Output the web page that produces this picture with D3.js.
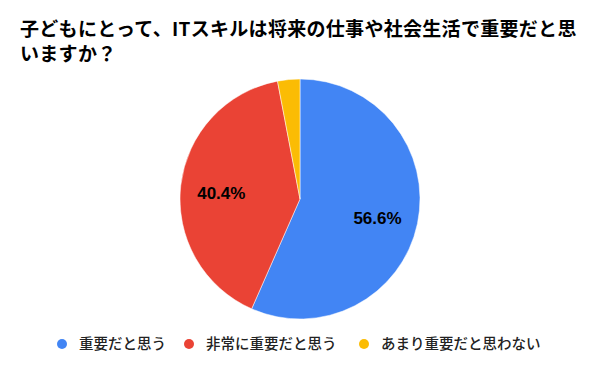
<!DOCTYPE html>
<html>
<head>
<meta charset="utf-8">
<script src="https://cdn.jsdelivr.net/npm/d3@7"></script>
<style>
  body { margin: 0; background: #fff; }
  text { font-family: "Liberation Sans", Arial, "Noto Sans CJK JP", sans-serif; }
  .jp { font-family: "Noto Sans CJK JP", sans-serif; }
</style>
</head>
<body>
<div id="chart"></div>
<script>
const width = 600;
const height = 371;

const titleLines = ['子どもにとって、ITスキルは将来の仕事や社会生活で重要だと思', 'いますか？'];
const categories = ['重要だと思う', '非常に重要だと思う', 'あまり重要だと思わない'];
const values = [56.6, 40.4, 3.0];
const colors = ['#4285f4', '#ea4335', '#fbbc04'];

const cx = 300, cy = 199, radius = 120;

const svg = d3.create('svg')
  .attr('width', width)
  .attr('height', height);

svg.append('rect').attr('width', width).attr('height', height).attr('fill', '#fff');

// title
svg.append('text')
  .attr('class', 'jp')
  .attr('x', 20)
  .attr('y', 36)
  .style('font-size', '19px')
  .style('font-weight', 'bold')
  .style('letter-spacing', '0.3px')
  .attr('fill', '#000')
  .selectAll('tspan')
  .data(titleLines)
  .join('tspan')
  .attr('x', 20)
  .attr('dy', (d, i) => i === 0 ? 0 : 25)
  .text(d => d);

const pie = d3.pie().sort(null).value(d => d);
const arcs = pie(values);
const arc = d3.arc().innerRadius(0).outerRadius(radius);
const labelArc = d3.arc().innerRadius(radius * 0.66).outerRadius(radius * 0.66);

const g = svg.append('g').attr('transform', `translate(${cx},${cy})`);

g.selectAll('path')
  .data(arcs)
  .join('path')
  .attr('d', arc)
  .attr('fill', (d, i) => colors[i])
  .attr('stroke', '#fff')
  .attr('stroke-width', 0.5);

// labels only on slices big enough
g.selectAll('text.val')
  .data(arcs.filter(d => d.value >= 5))
  .join('text')
  .attr('class', 'val')
  .attr('transform', d => `translate(${labelArc.centroid(d)})`)
  .attr('text-anchor', 'middle')
  .attr('dy', '0.5em')
  .style('font-size', '17px')
  .style('font-weight', 'bold')
  .attr('fill', '#000')
  .text(d => d.value.toFixed(1) + '%');

// legend
const legendX = [62, 189, 364];
const legend = svg.append('g');
categories.forEach((c, i) => {
  legend.append('circle')
    .attr('cx', legendX[i])
    .attr('cy', 344)
    .attr('r', 5)
    .attr('fill', colors[i]);
  legend.append('text')
    .attr('class', 'jp')
    .attr('x', legendX[i] + 17)
    .attr('y', 344)
    .attr('dy', '0.36em')
    .style('font-size', '14.5px')
    .style('font-weight', 500)
    .attr('fill', '#222')
    .text(c);
});

document.getElementById('chart').appendChild(svg.node());
</script>
</body>
</html>
